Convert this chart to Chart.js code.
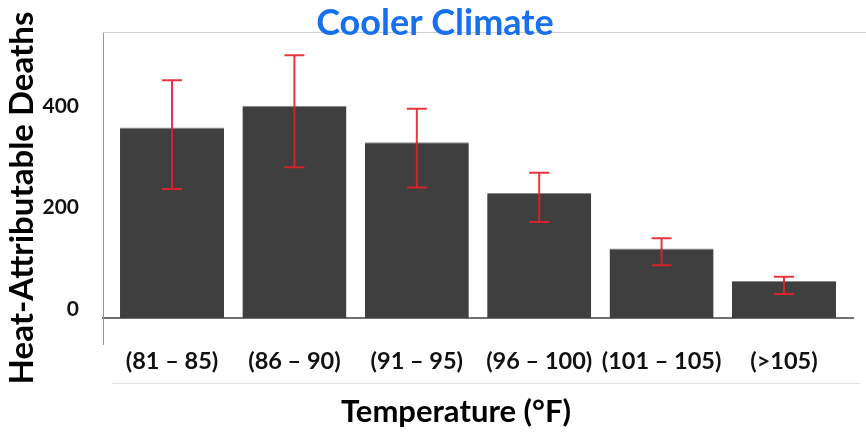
<!DOCTYPE html>
<html>
<head>
<meta charset="utf-8">
<script src="https://cdn.jsdelivr.net/npm/chart.js@4.4.0/dist/chart.umd.min.js"></script>
<style>
  html, body { margin: 0; padding: 0; background: #fff; }
  #wrap { width: 866px; height: 432px; }
</style>
</head>
<body>
<div id="wrap"><canvas id="heat_Chart"></canvas></div>
<script>
// values
const categories = ['(81 – 85)', '(86 – 90)', '(91 – 95)', '(96 – 100)', '(101 – 105)', '(>105)'];
const deaths = [375, 418, 346, 246, 137, 73];
const errLow = [254, 297, 257, 189, 104, 47];
const errHigh = [468, 517, 412, 286, 157, 81];
const yTicks = [0, 200, 400];

const FONT = 'Lato';

// red error bars, drawn through the scales
const errorBars = {
  id: 'errorBars',
  afterDatasetsDraw(chart) {
    const { ctx, scales: { x, y } } = chart;
    ctx.save();
    ctx.strokeStyle = 'rgba(228, 32, 42, 0.9)';
    ctx.lineWidth = 2;
    deaths.forEach((v, i) => {
      const px = x.getPixelForValue(i);
      const lo = y.getPixelForValue(errLow[i]);
      const hi = y.getPixelForValue(errHigh[i]);
      ctx.beginPath();
      ctx.moveTo(px, lo); ctx.lineTo(px, hi);
      ctx.moveTo(px - 10, lo); ctx.lineTo(px + 10, lo);
      ctx.moveTo(px - 10, hi); ctx.lineTo(px + 10, hi);
      ctx.stroke();
    });
    ctx.restore();
  }
};

// frame bits and the titles
const frame = {
  id: 'frame',
  afterDraw(chart) {
    const { ctx, chartArea: a, width } = chart;
    ctx.save();
    ctx.lineWidth = 1;
    ctx.strokeStyle = '#cfcfcf';
    ctx.beginPath();
    ctx.moveTo(a.left, a.top + 0.5); ctx.lineTo(width, a.top + 0.5);
    ctx.stroke();
    ctx.strokeStyle = '#999';
    ctx.beginPath();
    ctx.moveTo(a.left + 0.5, a.bottom); ctx.lineTo(a.left + 0.5, a.bottom + 27);
    ctx.stroke();
    ctx.strokeStyle = '#e2e2e2';
    ctx.beginPath();
    ctx.moveTo(112, 383.5); ctx.lineTo(860, 383.5);
    ctx.stroke();

    ctx.fillStyle = '#1670f0';
    ctx.font = 'bold 36px ' + FONT;
    ctx.textAlign = 'center';
    ctx.textBaseline = 'alphabetic';
    ctx.fillText('Cooler Climate', 435, 35);

    ctx.fillStyle = '#000';
    ctx.font = 'bold 31px ' + FONT;
    ctx.fillText('Temperature (°F)', 456, 422);

    ctx.translate(33, 198);
    ctx.rotate(-Math.PI / 2);
    ctx.font = 'bold 33px ' + FONT;
    ctx.fillText('Heat-Attributable Deaths', 0, 0);
    ctx.restore();
  }
};

const data = {
  datasets: [{
    label: 'Heat-Attributable Deaths',
    data: deaths.map((v, i) => ({ x: i, y: v })),
    backgroundColor: '#3f3f3f',
    borderColor: '#8a8a8a',
    borderWidth: { top: 1, left: 0, right: 0, bottom: 0 },
    barPercentage: 0.85,
    categoryPercentage: 1
  }]
};

const config = {
  type: 'bar',
  data: data,
  options: {
    responsive: true,
    maintainAspectRatio: false,
    animation: false,
    layout: { padding: { top: 32, right: 13, left: 0, bottom: 0 } },
    plugins: { legend: { display: false }, tooltip: { enabled: false } },
    scales: {
      x: {
        type: 'linear',
        offset: false,
        min: -0.564,
        max: 5.564,
        afterBuildTicks: s => { s.ticks = categories.map((c, i) => ({ value: i })); },
        afterFit: s => { s.height = 114; s.paddingLeft = 0; s.paddingRight = 0; },
        grid: { display: false, drawTicks: false },
        border: { display: true, color: '#707070', width: 2 },
        ticks: {
          padding: 29,
          color: '#111',
          font: { family: FONT, size: 23.5, weight: 'bold' },
          callback: v => categories[v]
        }
      },
      y: {
        min: 0,
        max: 563,
        afterBuildTicks: s => { s.ticks = yTicks.map(v => ({ value: v })); },
        afterFit: s => { s.width = 103; s.paddingTop = 0; s.paddingBottom = 0; },
        grid: { display: false, drawTicks: false },
        border: { display: true, color: '#999', width: 1 },
        ticks: {
          padding: 24,
          labelOffset: -9,
          color: '#111',
          font: { family: FONT, size: 21, weight: 'bold' }
        }
      }
    }
  },
  plugins: [errorBars, frame]
};

const myChart = new Chart(document.getElementById('heat_Chart'), config);
</script>
</body>
</html>
